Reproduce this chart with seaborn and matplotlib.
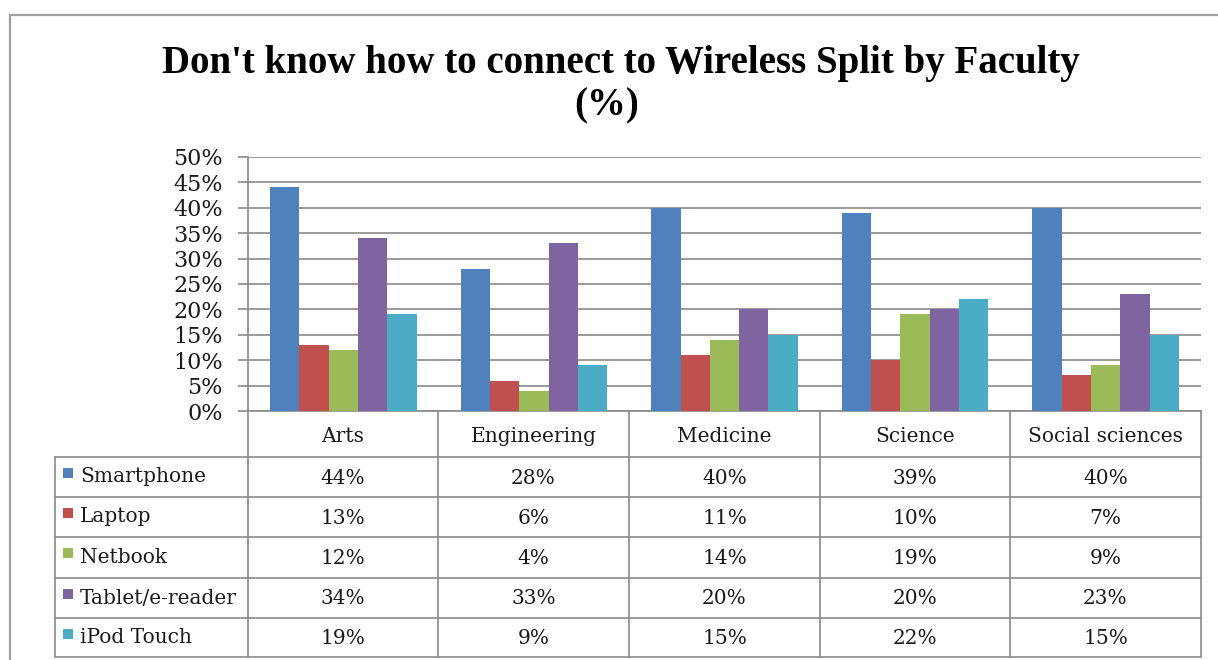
import matplotlib
matplotlib.use("Agg")
import matplotlib.pyplot as plt
import seaborn as sns
import pandas as pd
import numpy as np

faculties = ["Arts", "Engineering", "Medicine", "Science", "Social sciences"]
devices = ["Smartphone", "Laptop", "Netbook", "Tablet/e-reader", "iPod Touch"]
smartphone = [44, 28, 40, 39, 40]
laptop = [13, 6, 11, 10, 7]
netbook = [12, 4, 14, 19, 9]
tablet = [34, 33, 20, 20, 23]
ipod = [19, 9, 15, 22, 15]
colors = ["#4F81BD", "#C0504D", "#9BBB59", "#8064A2", "#4BACC6"]
yticks = [0, 5, 10, 15, 20, 25, 30, 35, 40, 45, 50]
title = "Don't know how to connect to Wireless Split by Faculty"

series = [smartphone, laptop, netbook, tablet, ipod]
rows = []
for d, vals in zip(devices, series):
    for f, v in zip(faculties, vals):
        rows.append({"Faculty": f, "Device": d, "Value": v})
df = pd.DataFrame(rows)

sns.set_theme(style="white")
plt.rcParams["font.family"] = ["DejaVu Serif"]

W, H = 1218, 660
fig = plt.figure(figsize=(W / 100, H / 100), dpi=100)
fig.patch.set_facecolor("white")

# plot area in pixel coordinates
px_l, px_r, px_top, px_bot = 248, 1201, 157, 411
ax = fig.add_axes([px_l / W, 1 - px_bot / H, (px_r - px_l) / W, (px_bot - px_top) / H])
sns.barplot(data=df, x="Faculty", y="Value", hue="Device", order=faculties,
            hue_order=devices, palette=colors, width=5 / 6.5, saturation=1,
            linewidth=0, legend=False, ax=ax, errorbar=None)
ax.set_xlim(-0.5, len(faculties) - 0.5)
ax.set_ylim(0, 50)
ax.set_yticks(yticks)
ax.set_yticklabels([f"{t}%" for t in yticks], fontsize=16, color="#1a1a1a")
ax.set_xticks([])
ax.set_xlabel("")
ax.set_ylabel("")
gcol = "#8a8a8a"
ax.yaxis.grid(True, color=gcol, lw=1.2)
ax.set_axisbelow(True)
for s in ["top", "right", "bottom"]:
    ax.spines[s].set_visible(False)
ax.spines["left"].set_color(gcol)
ax.spines["left"].set_linewidth(1.2)
ax.tick_params(axis="y", left=True, length=7.2, width=1.2, color=gcol, pad=11)
ax.patch.set_alpha(0)

# overlay for the data table and frame
ov = fig.add_axes([0, 0, 1, 1], zorder=-1)
ov.set_xlim(0, W)
ov.set_ylim(H, 0)
ov.axis("off")

lw = 1.2
# outer frame
ov.plot([10, W], [15, 15], color="#a0a0a0", lw=1.6)
ov.plot([10, 10], [15, H], color="#a0a0a0", lw=1.6)

cols = [248, 438, 629, 820, 1010, 1201]
row_lines = [457, 497, 537, 578, 618, 657]
tbl_left = 55
ov.plot([cols[0], cols[-1]], [px_bot, px_bot], color=gcol, lw=lw)
for x in cols:
    ov.plot([x, x], [px_bot, row_lines[-1]], color=gcol, lw=lw)
ov.plot([tbl_left, tbl_left], [row_lines[0], row_lines[-1]], color=gcol, lw=lw)
for y in row_lines:
    ov.plot([tbl_left, cols[-1]], [y, y], color=gcol, lw=lw)

fs = 14.5
for i, f in enumerate(faculties):
    cx = (cols[i] + cols[i + 1]) / 2
    ov.text(cx, (px_bot + row_lines[0]) / 2 + 2, f, ha="center", va="center",
            fontsize=fs, color="#1a1a1a")
for r, (d, vals, c) in enumerate(zip(devices, series, colors)):
    y0, y1 = row_lines[r], row_lines[r + 1]
    cy = (y0 + y1) / 2 + 1
    ov.add_patch(plt.Rectangle((63, y0 + 11), 10, 10, color=c, lw=0))
    ov.text(80, cy - 1, d, ha="left", va="center", fontsize=fs, color="#1a1a1a")
    for i, v in enumerate(vals):
        cx = (cols[i] + cols[i + 1]) / 2
        ov.text(cx, cy, f"{v}%", ha="center", va="center", fontsize=fs, color="#1a1a1a")

# title, fitted to the reference width
t1 = fig.text(621 / W, 1 - 64 / H, title, ha="center", va="center",
              fontsize=25, fontweight="bold", family=["Liberation Serif"], color="black")
fig.canvas.draw()
wpx = t1.get_window_extent().width
t1.set_fontsize(25 * 917 / wpx)
fig.text(607 / W, 1 - 106 / H, "(%)", ha="center", va="center",
         fontsize=25 * 917 / wpx, fontweight="bold", family=["Liberation Serif"], color="black")

fig.savefig("out.png", dpi=100, facecolor="white")
